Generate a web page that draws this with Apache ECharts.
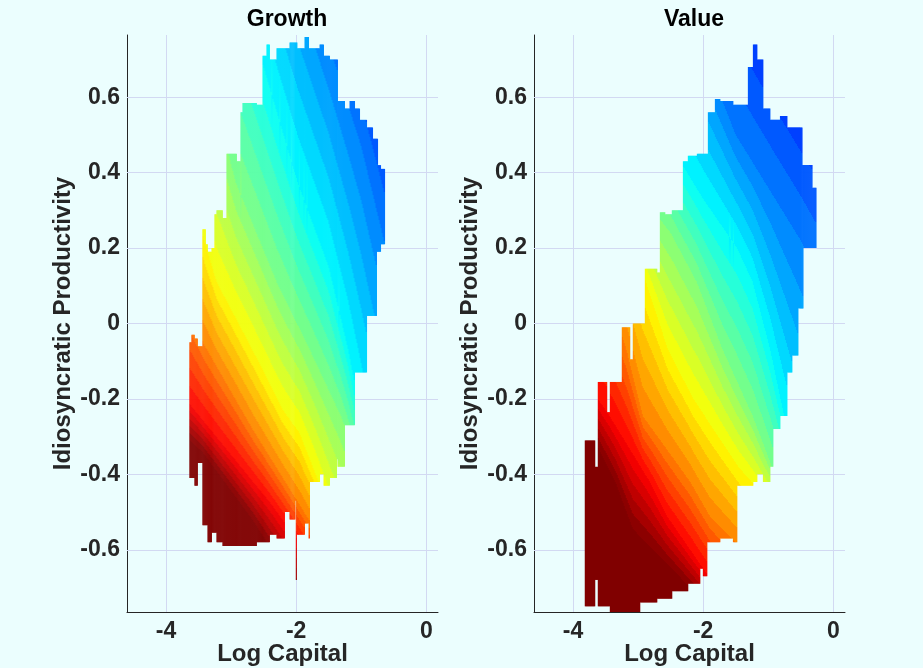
<!DOCTYPE html>
<html lang="en">
<head>
    <meta charset="UTF-8">
    <title>Growth vs Value</title>
    <script src="https://cdn.jsdelivr.net/npm/echarts@6/dist/echarts.min.js"></script>
    <style>
        body { margin: 0; background: #ebfefe; }
        #chart { width: 923px; height: 668px; }
    </style>
</head>
<body>
<div id="chart"></div>
<script>
// axis ticks
const kTicks = [-4, -2, 0];
const zTicks = [-0.6, -0.4, -0.2, 0, 0.2, 0.4, 0.6];

// support of the surface, column by column: [kLeft, kRight, zLow, zHigh]
const growthCols = [
    [-3.642, -3.611, -0.41, -0.05],
    [-3.611, -3.565, -0.41, -0.03],
    [-3.565, -3.518, -0.43, -0.04],
    [-3.518, -3.442, -0.37, -0.06],
    [-3.442, -3.395, -0.535, 0.25],
    [-3.395, -3.364, -0.535, 0.21],
    [-3.364, -3.302, -0.58, 0.19],
    [-3.302, -3.257, -0.555, 0.20],
    [-3.257, -3.226, -0.555, 0.29],
    [-3.226, -3.134, -0.58, 0.30],
    [-3.134, -3.072, -0.59, 0.28],
    [-3.072, -2.918, -0.59, 0.45],
    [-2.918, -2.857, -0.59, 0.43],
    [-2.857, -2.826, -0.59, 0.56],
    [-2.826, -2.611, -0.59, 0.585],
    [-2.611, -2.518, -0.58, 0.58],
    [-2.518, -2.457, -0.58, 0.71],
    [-2.457, -2.411, -0.58, 0.74],
    [-2.411, -2.303, -0.56, 0.70],
    [-2.303, -2.180, -0.57, 0.73],
    [-2.180, -2.103, -0.50, 0.73],
    [-2.103, -2.018, -0.52, 0.745],
    [-2.018, -1.988, -0.47, 0.745],
    [-2.006, -1.996, -0.68, -0.45],
    [-1.988, -1.872, -0.56, 0.73],
    [-1.872, -1.810, -0.53, 0.76],
    [-1.810, -1.795, -0.57, 0.73],
    [-1.795, -1.641, -0.42, 0.73],
    [-1.641, -1.580, -0.40, 0.74],
    [-1.580, -1.488, -0.43, 0.71],
    [-1.488, -1.380, -0.41, 0.70],
    [-1.380, -1.365, -0.36, 0.70],
    [-1.365, -1.257, -0.38, 0.59],
    [-1.257, -1.180, -0.27, 0.57],
    [-1.180, -1.103, -0.27, 0.59],
    [-1.103, -1.026, -0.13, 0.57],
    [-1.026, -0.918, -0.13, 0.54],
    [-0.918, -0.826, 0.02, 0.52],
    [-0.826, -0.765, 0.02, 0.49],
    [-0.765, -0.749, 0.19, 0.49],
    [-0.749, -0.703, 0.19, 0.42],
    [-0.703, -0.641, 0.21, 0.41]
];
const valueCols = [
    [-3.820, -3.666, -0.75, -0.31],
    [-3.666, -3.620, -0.68, -0.38],
    [-3.620, -3.482, -0.75, -0.155],
    [-3.482, -3.435, -0.75, -0.235],
    [-3.435, -3.251, -0.78, -0.155],
    [-3.251, -3.128, -0.78, -0.01],
    [-3.128, -3.082, -0.78, -0.095],
    [-3.082, -2.974, -0.78, 0.0],
    [-2.974, -2.897, -0.74, 0.0],
    [-2.897, -2.712, -0.74, 0.145],
    [-2.712, -2.666, -0.73, 0.135],
    [-2.666, -2.589, -0.73, 0.295],
    [-2.589, -2.482, -0.73, 0.29],
    [-2.482, -2.312, -0.71, 0.30],
    [-2.312, -2.236, -0.71, 0.43],
    [-2.236, -2.097, -0.69, 0.445],
    [-2.097, -2.051, -0.69, 0.45],
    [-2.051, -2.005, -0.65, 0.45],
    [-2.005, -1.943, -0.67, 0.45],
    [-1.943, -1.928, -0.58, 0.45],
    [-1.928, -1.820, -0.58, 0.56],
    [-1.820, -1.743, -0.58, 0.595],
    [-1.743, -1.543, -0.57, 0.59],
    [-1.543, -1.482, -0.58, 0.58],
    [-1.482, -1.313, -0.43, 0.58],
    [-1.313, -1.236, -0.43, 0.68],
    [-1.236, -1.174, -0.42, 0.74],
    [-1.174, -1.082, -0.40, 0.70],
    [-1.082, -0.974, -0.42, 0.57],
    [-0.974, -0.928, -0.38, 0.54],
    [-0.928, -0.820, -0.28, 0.54],
    [-0.820, -0.712, -0.245, 0.55],
    [-0.712, -0.636, -0.13, 0.52],
    [-0.636, -0.543, -0.085, 0.52],
    [-0.543, -0.480, 0.04, 0.52],
    [-0.480, -0.465, 0.04, 0.42],
    [-0.465, -0.326, 0.2, 0.42],
    [-0.326, -0.265, 0.2, 0.36]
];

// contour levels (position in the jet colormap) and where each level runs: [k, z] points
const levels = [0.2, 0.25, 0.375, 0.5, 0.625, 0.75, 0.875, 1.0];
const growthContours = [
    [[-1.1, 0.76], [-0.6, 0.45]],
    [[-1.5, 0.74], [-1.0, 0.47], [-0.65, 0.22]],
    [[-2.5, 0.68], [-1.97, 0.37], [-1.5, 0.15], [-1.2, -0.07], [-1.0, -0.25]],
    [[-3.2, 0.55], [-2.92, 0.37], [-2.3, 0.11], [-1.79, -0.07], [-1.3, -0.25], [-1.0, -0.4]],
    [[-3.45, 0.24], [-3.22, 0.11], [-2.67, -0.07], [-2.2, -0.23], [-1.95, -0.29], [-1.7, -0.4], [-1.5, -0.5]],
    [[-3.7, 0.05], [-3.4, -0.06], [-2.67, -0.28], [-1.95, -0.48], [-1.7, -0.55]],
    [[-3.7, -0.2], [-2.4, -0.475], [-2.0, -0.57], [-1.7, -0.65]],
    [[-3.7, -0.3], [-3.44, -0.34], [-2.67, -0.52], [-2.3, -0.62]]
];
const valueContours = [
    [[-1.6, 0.78], [-0.9, 0.57], [-0.3, 0.4]],
    [[-2.0, 0.72], [-1.5, 0.5], [-1.0, 0.36], [-0.5, 0.22], [-0.2, 0.12]],
    [[-2.6, 0.5], [-2.0, 0.33], [-1.48, 0.2], [-1.24, 0.11], [-0.97, -0.07], [-0.75, -0.25]],
    [[-3.0, 0.35], [-2.5, 0.24], [-2.1, 0.11], [-1.7, -0.07], [-1.24, -0.245], [-0.9, -0.4]],
    [[-3.1, 0.22], [-2.9, 0.12], [-2.54, -0.07], [-2.15, -0.2], [-1.46, -0.38], [-1.1, -0.45], [-0.8, -0.5]],
    [[-3.4, 0.05], [-3.18, -0.07], [-2.93, -0.245], [-2.2, -0.42], [-1.9, -0.51], [-1.5, -0.58]],
    [[-3.7, -0.18], [-3.44, -0.245], [-2.82, -0.42], [-2.56, -0.51], [-2.0, -0.65]],
    [[-3.7, -0.3], [-3.35, -0.42], [-3.08, -0.545], [-2.2, -0.7]]
];

const FONT = "'Liberation Sans', Arial, Helvetica, sans-serif";
const INK = '#262626';
const GRIDLINE = '#d2d9f2';
const BAND = 0.025; // contourf step

function clamp01(x) { return Math.max(0, Math.min(1, x)); }
function jet(v) {
    const r = clamp01(Math.min(4 * v - 1.5, -4 * v + 4.5));
    const g = clamp01(Math.min(4 * v - 0.5, -4 * v + 3.5));
    const b = clamp01(Math.min(4 * v + 0.5, -4 * v + 2.5));
    return 'rgb(' + Math.round(r * 255) + ',' + Math.round(g * 255) + ',' + Math.round(b * 255) + ')';
}
function zOnLine(pts, k) {
    let i = 0;
    while (i < pts.length - 2 && k > pts[i + 1][0]) i++;
    const a = pts[i], b = pts[i + 1];
    return a[1] + (b[1] - a[1]) * (k - a[0]) / (b[0] - a[0]);
}

function bandStops(ys, yA, yB) {
    const off = y => clamp01((y - yA) / (yB - yA));
    const L = levels.length;
    const stops = [
        { offset: 0, color: jet(levels[0] - 0.0125) },
        { offset: off(ys[0]), color: jet(levels[0] - 0.0125) }
    ];
    for (let j = 0; j < L - 1; j++) {
        const dv = levels[j + 1] - levels[j];
        const M = Math.max(1, Math.round(dv / BAND));
        for (let m = 0; m < M; m++) {
            const ya = ys[j] + (ys[j + 1] - ys[j]) * m / M;
            const yb = ys[j] + (ys[j + 1] - ys[j]) * (m + 1) / M;
            const c = jet(levels[j] + dv * (m + 0.5) / M);
            stops.push({ offset: off(ya), color: c }, { offset: off(yb), color: c });
        }
    }
    stops.push({ offset: off(ys[L - 1]), color: jet(1) }, { offset: 1, color: jet(1) });
    return stops;
}

function makeRender(lines) {
    return function (params, api) {
        const k0 = api.value(0), k1 = api.value(1), zLo = api.value(2), zHi = api.value(3);
        const cs = params.coordSys;
        const pLo = api.coord([k0, zLo]), pHi = api.coord([k1, zHi]);
        const x0 = pLo[0], x1 = pHi[0];
        const yLo = Math.min(pLo[1], cs.y + cs.height);
        const yHi = Math.max(pHi[1], cs.y);
        const yA = api.coord([k0, 1])[1], yB = api.coord([k0, -1])[1];
        const n = Math.max(1, Math.round(x1 - x0));
        const w = (x1 - x0) / n;
        const children = [];
        for (let i = 0; i < n; i++) {
            const kc = k0 + (k1 - k0) * (i + 0.5) / n;
            const ys = lines.map(l => api.coord([kc, zOnLine(l, kc)])[1]);
            for (let j = 1; j < ys.length; j++) ys[j] = Math.max(ys[j], ys[j - 1]);
            children.push({
                type: 'rect',
                shape: { x: x0 + i * w, y: yHi, width: w + 0.5, height: yLo - yHi },
                style: { fill: new echarts.graphic.LinearGradient(0, yA, 0, yB, bandStops(ys, yA, yB), true) }
            });
        }
        return { type: 'group', children: children };
    };
}

const grids = [
    { left: 127, top: 35, width: 311, height: 577, outerBoundsMode: 'none', containLabel: false },
    { left: 534, top: 35, width: 311, height: 577, outerBoundsMode: 'none', containLabel: false }
];

function xAxisFor(i) {
    return {
        type: 'value', gridIndex: i, min: -4.6, max: 0.18,
        name: 'Log Capital', nameLocation: 'middle', nameGap: 30, nameMoveOverlap: false,
        nameTextStyle: { fontFamily: FONT, fontSize: 24, fontWeight: 'bold', color: INK },
        axisLine: { show: true, onZero: false, lineStyle: { color: INK, width: 1 } },
        axisTick: { show: true, inside: true, length: 5, customValues: kTicks, lineStyle: { color: INK } },
        axisLabel: { customValues: kTicks, fontFamily: FONT, fontSize: 23, fontWeight: 'bold', color: INK, margin: 8 },
        splitLine: { show: false }
    };
}
function yAxisFor(i) {
    return {
        type: 'value', gridIndex: i, min: -0.765, max: 0.765,
        name: 'Idiosyncratic Productivity', nameLocation: 'middle', nameGap: 52, nameMoveOverlap: false,
        nameTextStyle: { fontFamily: FONT, fontSize: 24, fontWeight: 'bold', color: INK },
        axisLine: { show: true, onZero: false, lineStyle: { color: INK, width: 1 } },
        axisTick: { show: true, inside: true, length: 5, customValues: zTicks, lineStyle: { color: INK } },
        axisLabel: { customValues: zTicks, fontFamily: FONT, fontSize: 23, fontWeight: 'bold', color: INK, margin: 7 },
        splitLine: { show: false }
    };
}
function gridLines(i) {
    return {
        type: 'line', xAxisIndex: i, yAxisIndex: i, data: [], z: 1, silent: true,
        markLine: {
            z: 1, silent: true, symbol: 'none', animation: false,
            label: { show: false },
            lineStyle: { color: GRIDLINE, type: 'solid', width: 1 },
            data: kTicks.map(k => ({ xAxis: k })).concat(zTicks.map(z => ({ yAxis: z })))
        }
    };
}

const chart = echarts.init(document.getElementById('chart'));
chart.setOption({
    backgroundColor: '#ebfefe',
    animation: false,
    title: [
        { text: 'Growth', left: 282, top: 3, textAlign: 'center',
          textStyle: { fontFamily: FONT, fontSize: 23, fontWeight: 'bold', color: '#000' } },
        { text: 'Value', left: 689, top: 3, textAlign: 'center',
          textStyle: { fontFamily: FONT, fontSize: 23, fontWeight: 'bold', color: '#000' } }
    ],
    grid: grids,
    xAxis: [xAxisFor(0), xAxisFor(1)],
    yAxis: [yAxisFor(0), yAxisFor(1)],
    series: [
        gridLines(0),
        gridLines(1),
        { type: 'custom', name: 'Growth', xAxisIndex: 0, yAxisIndex: 0, z: 3, clip: true, silent: true,
          renderItem: makeRender(growthContours), data: growthCols },
        { type: 'custom', name: 'Value', xAxisIndex: 1, yAxisIndex: 1, z: 3, clip: true, silent: true,
          renderItem: makeRender(valueContours), data: valueCols }
    ]
});
</script>
</body>
</html>
